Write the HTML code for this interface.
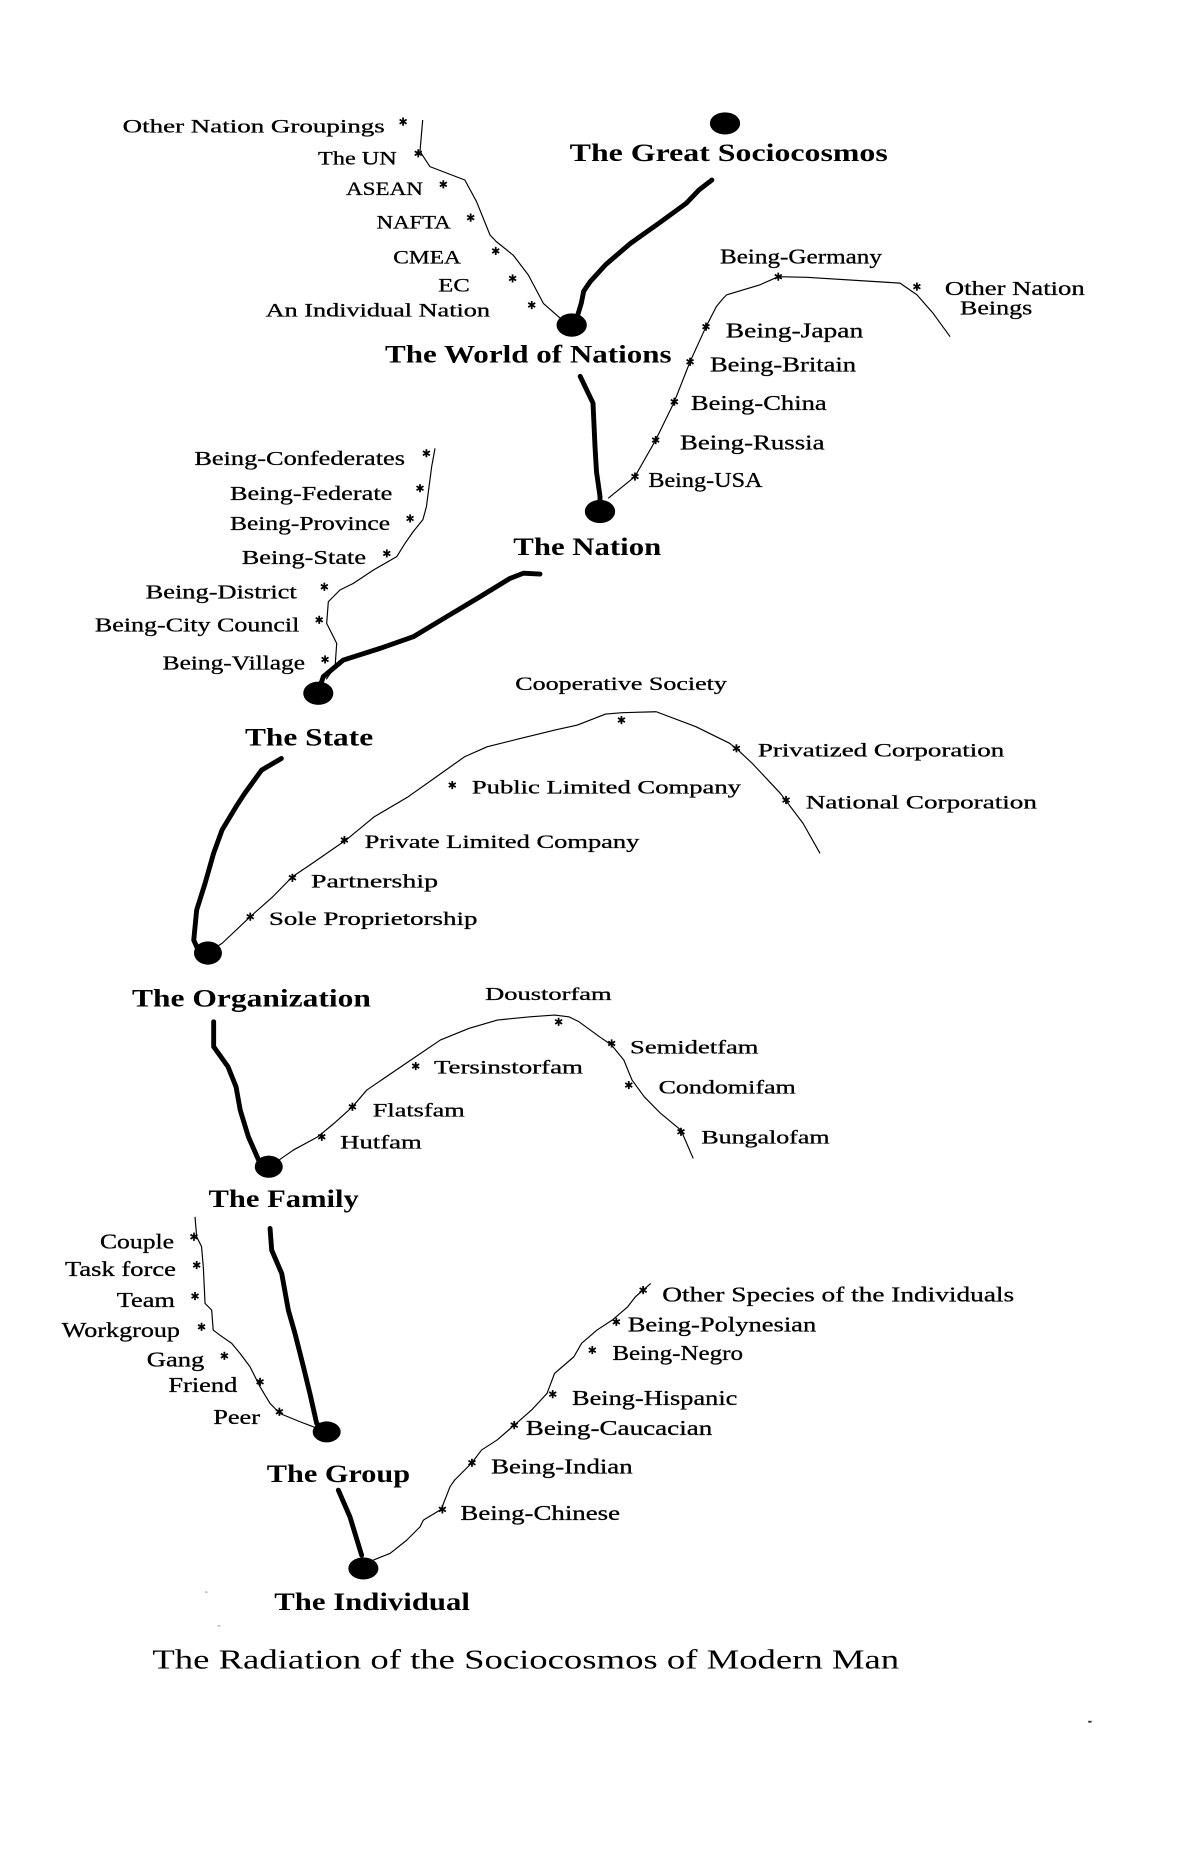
<!DOCTYPE html>
<html>
<head>
<meta charset="utf-8">
<style>
html,body{margin:0;padding:0;background:#fff;}
svg{display:block;}
text{font-family:"Liberation Serif","DejaVu Serif",serif;fill:#000;}
.n{font-size:22px;font-weight:bold;}
.l{stroke:#000;stroke-width:0.25;}
.thick{fill:none;stroke:#000;stroke-width:4.2;stroke-linecap:round;stroke-linejoin:round;}
.thin{fill:none;stroke:#000;stroke-width:1;stroke-linejoin:round;}
</style>
</head>
<body>
<svg width="1193" height="1849" viewBox="0 0 1024 1587" preserveAspectRatio="none" xmlns="http://www.w3.org/2000/svg">
<defs>
<g id="st"><path d="M0,-3.5 L0,3.5 M-3,-1.8 L3,1.8 M-3,1.8 L3,-1.8" stroke="#000" stroke-width="1.5" fill="none"/></g>
</defs>
<rect width="1024" height="1587" fill="#fff"/>

<!-- dots -->
<ellipse cx="622.3" cy="105.9" rx="13" ry="9.5"/>
<ellipse cx="490.7" cy="279" rx="13" ry="10"/>
<ellipse cx="515" cy="439" rx="13" ry="10"/>
<ellipse cx="273.2" cy="595" rx="12.9" ry="10"/>
<ellipse cx="178.5" cy="818" rx="12" ry="10"/>
<ellipse cx="230.7" cy="1001.4" rx="12" ry="9.5"/>
<ellipse cx="280.4" cy="1229" rx="12" ry="9"/>
<ellipse cx="311.9" cy="1346.2" rx="12.9" ry="9.5"/>

<!-- thick connectors -->
<polyline class="thick" points="611,154.5 600,163 589,174.5 565,192 541,209 520,227 506.5,241.8 501,250 499,260 496,270 490.7,279"/>
<polyline class="thick" points="498,323 509,346 510.7,383 512,405 515,426 515,439"/>
<polyline class="thick" points="463.5,492.7 449.2,492 437.8,496.4 412,512.2 383.4,529.3 354.8,546.5 326.2,556.5 294.7,566.5 277.5,580.8 273.2,593.7"/>
<polyline class="thick" points="241.5,651 224.5,661 210,681 202.6,692.4 190.6,712.4 183.3,732.5 176,758.2 168.8,781.1 166.3,806.9 170,815 178.5,818"/>
<polyline class="thick" points="183.4,877 183.4,898.4 195.7,915.6 202.6,932.8 206.2,952.8 213.2,975.7 222,995.7 230.7,1001"/>
<polyline class="thick" points="231.8,1054.4 233.2,1073 241.8,1093 247.5,1124.5 253.2,1144.5 260.4,1173 266,1196 271.8,1221.7 280,1229"/>
<polyline class="thick" points="290.4,1279 300.4,1302 310.4,1334.8"/>

<!-- thin connectors -->
<polyline class="thin" points="362.8,103 360.5,130 369,143 399,154.5 409,173 420.6,201.7 426,207.4 440.5,219 453.5,236 466.4,260.4 480.7,273 488,279"/>
<polyline class="thin" points="522,427.7 545,409 562.8,377.7 578.8,344.8 592.3,310.5 606,280.4 615,263 620.8,256 623.8,253 652,244.6 668,237.5 692.4,238 772.5,243 787,253 801,269 815.5,289"/>
<polyline class="thin" points="373.4,384.8 370.5,400.6 366,435 363,446 354.6,456.4 347.6,466.4 340.5,477.8 320.4,489.3 303.3,500.7 291.8,506.4 281.8,516.5 280.4,535 289,552.2 287.6,572.3 280,583"/>
<polyline class="thin" points="178.5,817 190.6,809.7 214.8,786.8 234.1,769.7 251,752.5 268,741 297,721 321.3,701 350.4,683.8 374.6,666.7 398.8,649.5 418,641 447.2,633.7 476.2,626.6 495.6,622.3 519.8,612.9 534.3,611.7 563.3,610.9 597.3,623.7 626.3,638 633.5,643.8 645.7,655.2 669.9,681 689.3,706.7 703.9,732.5"/>
<polyline class="thin" points="239.5,995.7 251.8,987.1 272.8,975.7 286.7,964.2 302.5,950 314.8,935.6 335.8,921.3 356.8,907 377.9,892.7 402.4,882.7 426.9,875.5 455,872.7 476,871.2 488.2,872.7 497,877 514.5,889.8 525,897 535.5,909.9 542.5,927 553,941.4 567,955.6 584.5,970 595,994.3"/>
<polyline class="thin" points="167.4,1044.4 168.8,1061.5 173,1070 174.5,1087.3 176,1118.7 181.7,1124.5 183,1141.6 188.8,1146 198.9,1153 206,1161.6 214.6,1173.1 223.2,1190.3 231.8,1204.6 240.3,1213.2 257.5,1220.3 269,1224.6 278,1229"/>
<polyline class="thin" points="320.5,1339 334.8,1333.3 349,1322 360.5,1310.5 363.4,1304.7 378.7,1295.5 386.3,1276 390.2,1270.4 405.1,1255.5 413.3,1244.6 426.6,1236 441.4,1223.2 456.2,1210.3 469.5,1196 476,1178.8 492.6,1164.5 499.2,1153 512.4,1141.6 525.6,1133 538.8,1121.6 545.4,1113 558.6,1101.6"/>

<!-- node labels -->
<text class="n" x="489" y="138" textLength="273" lengthAdjust="spacingAndGlyphs">The Great Sociocosmos</text>
<text class="n" x="330.5" y="311" textLength="246" lengthAdjust="spacingAndGlyphs">The World of Nations</text>
<text class="n" x="440.6" y="476.4" textLength="127" lengthAdjust="spacingAndGlyphs">The Nation</text>
<text class="n" x="210.3" y="640" textLength="110" lengthAdjust="spacingAndGlyphs">The State</text>
<text class="n" x="113.3" y="864" textLength="205" lengthAdjust="spacingAndGlyphs">The Organization</text>
<text class="n" x="179" y="1036" textLength="129" lengthAdjust="spacingAndGlyphs">The Family</text>
<text class="n" x="229" y="1271.8" textLength="123" lengthAdjust="spacingAndGlyphs">The Group</text>
<text class="n" x="235.4" y="1382" textLength="168" lengthAdjust="spacingAndGlyphs">The Individual</text>

<!-- nation groupings -->
<g class="l" font-size="16">
<text x="105.3" y="113.6" textLength="225" lengthAdjust="spacingAndGlyphs">Other Nation Groupings</text>
<text x="273" y="141" textLength="67.5" lengthAdjust="spacingAndGlyphs">The UN</text>
<text x="297" y="167.4" textLength="66" lengthAdjust="spacingAndGlyphs">ASEAN</text>
<text x="323.3" y="196" textLength="63.5" lengthAdjust="spacingAndGlyphs">NAFTA</text>
<text x="337.6" y="226" textLength="58" lengthAdjust="spacingAndGlyphs">CMEA</text>
<text x="376.2" y="250.4" textLength="27" lengthAdjust="spacingAndGlyphs">EC</text>
<text x="228" y="271.8" textLength="192.6" lengthAdjust="spacingAndGlyphs">An Individual Nation</text>
</g>
<use href="#st" x="346" y="104.4"/><use href="#st" x="359" y="131.6"/><use href="#st" x="380.5" y="158.2"/>
<use href="#st" x="404" y="186.8"/><use href="#st" x="425.5" y="215.4"/><use href="#st" x="440" y="239"/>
<use href="#st" x="456.4" y="261.8"/>

<!-- nation beings -->
<g class="l" font-size="18">
<text x="618" y="226" textLength="139" lengthAdjust="spacingAndGlyphs">Being-Germany</text>
<text x="811" y="253" textLength="120" lengthAdjust="spacingAndGlyphs" font-size="17">Other Nation</text>
<text x="824" y="270" textLength="62" lengthAdjust="spacingAndGlyphs" font-size="17">Beings</text>
<text x="623" y="289.6" textLength="118" lengthAdjust="spacingAndGlyphs">Being-Japan</text>
<text x="609.4" y="319" textLength="125.4" lengthAdjust="spacingAndGlyphs">Being-Britain</text>
<text x="593" y="352" textLength="116.6" lengthAdjust="spacingAndGlyphs">Being-China</text>
<text x="583.7" y="385.7" textLength="124" lengthAdjust="spacingAndGlyphs">Being-Russia</text>
<text x="556.5" y="417.8" textLength="98" lengthAdjust="spacingAndGlyphs">Being-USA</text>
</g>
<use href="#st" x="668" y="237.5"/><use href="#st" x="787" y="246"/><use href="#st" x="606" y="280.4"/>
<use href="#st" x="592.3" y="310.5"/><use href="#st" x="578.8" y="344.8"/><use href="#st" x="562.8" y="377.7"/>
<use href="#st" x="545" y="409"/>

<!-- state beings -->
<g class="l" font-size="17">
<text x="166.8" y="399" textLength="180.8" lengthAdjust="spacingAndGlyphs">Being-Confederates</text>
<text x="197.4" y="429" textLength="139.4" lengthAdjust="spacingAndGlyphs">Being-Federate</text>
<text x="197.4" y="455" textLength="137.4" lengthAdjust="spacingAndGlyphs">Being-Province</text>
<text x="207.5" y="484" textLength="106.7" lengthAdjust="spacingAndGlyphs">Being-State</text>
<text x="125" y="513.6" textLength="129.7" lengthAdjust="spacingAndGlyphs">Being-District</text>
<text x="81.5" y="542" textLength="175.5" lengthAdjust="spacingAndGlyphs">Being-City Council</text>
<text x="139.6" y="574.5" textLength="122.2" lengthAdjust="spacingAndGlyphs">Being-Village</text>
</g>
<use href="#st" x="366" y="389"/><use href="#st" x="360.5" y="419"/><use href="#st" x="352" y="445"/>
<use href="#st" x="332" y="475"/><use href="#st" x="278.4" y="503.6"/><use href="#st" x="274" y="532"/>
<use href="#st" x="279" y="566"/>

<!-- organization types -->
<g class="l" font-size="16">
<text x="442.3" y="592.3" textLength="181.6" lengthAdjust="spacingAndGlyphs">Cooperative Society</text>
<text x="650.5" y="649.5" textLength="211.5" lengthAdjust="spacingAndGlyphs">Privatized Corporation</text>
<text x="691.7" y="693.8" textLength="198.3" lengthAdjust="spacingAndGlyphs">National Corporation</text>
<text x="405" y="681" textLength="231" lengthAdjust="spacingAndGlyphs">Public Limited Company</text>
<text x="313" y="728" textLength="235.8" lengthAdjust="spacingAndGlyphs">Private Limited Company</text>
<text x="267" y="761.7" textLength="109" lengthAdjust="spacingAndGlyphs">Partnership</text>
<text x="230.8" y="794" textLength="179" lengthAdjust="spacingAndGlyphs">Sole Proprietorship</text>
</g>
<use href="#st" x="533.4" y="618"/><use href="#st" x="632.1" y="642.3"/><use href="#st" x="674.7" y="686.7"/>
<use href="#st" x="388.2" y="673.8"/><use href="#st" x="295.6" y="721"/><use href="#st" x="251" y="753.4"/>
<use href="#st" x="214.8" y="786.8"/>

<!-- family types -->
<g class="l" font-size="16">
<text x="416.4" y="858.4" textLength="108.6" lengthAdjust="spacingAndGlyphs" font-size="15">Doustorfam</text>
<text x="540.8" y="904.1" textLength="110.2" lengthAdjust="spacingAndGlyphs">Semidetfam</text>
<text x="565.3" y="938.5" textLength="117.7" lengthAdjust="spacingAndGlyphs">Condomifam</text>
<text x="602" y="981.4" textLength="110" lengthAdjust="spacingAndGlyphs">Bungalofam</text>
<text x="372.5" y="921.3" textLength="127.9" lengthAdjust="spacingAndGlyphs">Tersinstorfam</text>
<text x="320" y="958.5" textLength="78.9" lengthAdjust="spacingAndGlyphs">Flatsfam</text>
<text x="292" y="985.7" textLength="70" lengthAdjust="spacingAndGlyphs">Hutfam</text>
</g>
<use href="#st" x="479.5" y="877"/><use href="#st" x="525" y="895.6"/><use href="#st" x="539.7" y="931.3"/>
<use href="#st" x="584.5" y="971.4"/><use href="#st" x="356.8" y="915"/><use href="#st" x="302.5" y="950"/>
<use href="#st" x="276.2" y="975.7"/>

<!-- group types -->
<g class="l" font-size="18">
<text x="85.8" y="1071.5" textLength="63.6" lengthAdjust="spacingAndGlyphs">Couple</text>
<text x="55.8" y="1095.3" textLength="95.2" lengthAdjust="spacingAndGlyphs">Task force</text>
<text x="100.2" y="1121.6" textLength="50" lengthAdjust="spacingAndGlyphs">Team</text>
<text x="53" y="1147.4" textLength="101.5" lengthAdjust="spacingAndGlyphs">Workgroup</text>
<text x="126" y="1173" textLength="49.4" lengthAdjust="spacingAndGlyphs">Gang</text>
<text x="144.5" y="1194.6" textLength="59.2" lengthAdjust="spacingAndGlyphs">Friend</text>
<text x="183" y="1222.3" textLength="40.2" lengthAdjust="spacingAndGlyphs">Peer</text>
</g>
<use href="#st" x="166.5" y="1061.5"/><use href="#st" x="168.8" y="1085.8"/><use href="#st" x="167.4" y="1112.4"/>
<use href="#st" x="173" y="1138.8"/><use href="#st" x="192.6" y="1163.7"/><use href="#st" x="223.2" y="1186"/>
<use href="#st" x="239.8" y="1211.7"/>

<!-- individual species -->
<g class="l" font-size="18">
<text x="568.5" y="1117.3" textLength="302" lengthAdjust="spacingAndGlyphs">Other Species of the Individuals</text>
<text x="538.8" y="1143" textLength="161.8" lengthAdjust="spacingAndGlyphs">Being-Polynesian</text>
<text x="525.6" y="1167.4" textLength="112.2" lengthAdjust="spacingAndGlyphs">Being-Negro</text>
<text x="491" y="1206" textLength="141.9" lengthAdjust="spacingAndGlyphs">Being-Hispanic</text>
<text x="451.3" y="1231.8" textLength="160.1" lengthAdjust="spacingAndGlyphs">Being-Caucacian</text>
<text x="421.6" y="1264.7" textLength="121.4" lengthAdjust="spacingAndGlyphs">Being-Indian</text>
<text x="395.2" y="1304.7" textLength="137" lengthAdjust="spacingAndGlyphs">Being-Chinese</text>
</g>
<use href="#st" x="552" y="1107.3"/><use href="#st" x="529" y="1134.5"/><use href="#st" x="508.4" y="1158.8"/>
<use href="#st" x="474.4" y="1196.6"/><use href="#st" x="441.4" y="1223.2"/><use href="#st" x="405.1" y="1255.5"/>
<use href="#st" x="379.7" y="1295.5"/>

<!-- caption -->
<text x="130.8" y="1432" font-size="24" textLength="641" lengthAdjust="spacingAndGlyphs">The Radiation of the Sociocosmos of Modern Man</text>

<!-- specks -->
<rect x="934" y="1477" width="3" height="1.5" fill="#333"/>
<rect x="176" y="1366" width="2" height="1" fill="#999"/>
<rect x="187" y="1395" width="2" height="1" fill="#999"/>
</svg>
</body>
</html>
